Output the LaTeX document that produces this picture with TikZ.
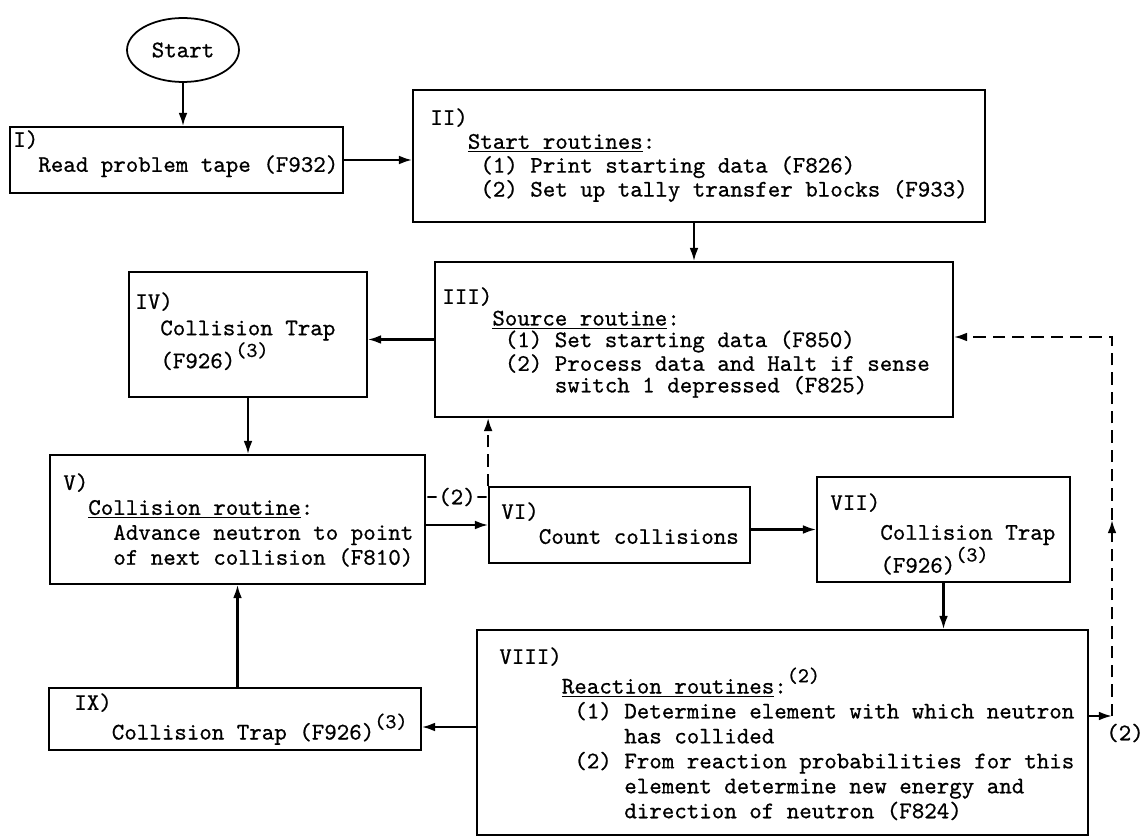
\documentclass[tikz,border=0pt]{standalone}
\usepackage{fontspec}
\newfontfamily\typew[FakeBold=0.7]{lmmono10-regular.otf}
\newcommand\tw[1]{\typew\fontsize{13.55}{#1}\selectfont}
\newcommand\upnote[1]{\raisebox{1.1ex}{\fontsize{12}{12}\selectfont(#1)}}
\usetikzlibrary{arrows.meta,shapes.geometric,fit}

\begin{document}
\begin{tikzpicture}[x=0.02cm, y=-0.02cm,
    box/.style={draw, line width=1pt, inner sep=0pt},
    txt/.style={anchor=north west, align=left, inner sep=0pt},
    arr/.style={line width=1.2pt, -{Latex[length=7.5pt,width=5pt]}},
    back/.style={line width=1.1pt, dash pattern=on 7pt off 4pt}]
\useasboundingbox (0,0) rectangle (1142,837);

% blocks of the flow chart
\node[draw, ellipse, line width=1pt, minimum width=2.24cm, minimum height=1.28cm, font=\tw{14pt}] (start) at (183,50) {Start};
\node[box, fit={(10,127) (343,193)}] (read) {};
\node[box, fit={(413,90) (985,222)}] (routines) {};
\node[box, fit={(435,262) (953,417)}] (source) {};
\node[box, fit={(129,272) (367,397)}] (trap4) {};
\node[box, fit={(50,455) (425,584)}] (collision) {};
\node[box, fit={(489,487) (750,563)}] (count) {};
\node[box, fit={(817,477) (1070,582)}] (trap7) {};
\node[box, fit={(477,630) (1088,835)}] (reaction) {};
\node[box, fit={(49,688) (421,750)}] (trap9) {};

% texts in the blocks
\node[txt, font=\tw{14.2pt}] (t1) at (13,130) {I)\\~~Read problem tape (F932)};
\node[txt, font=\tw{13.6pt}] (t2) at (430,108) {II)\\~~~\underline{Start routines}:\\~~~~(1) Print starting data (F826)\\~~~~(2) Set up tally transfer blocks (F933)};
\node[txt, font=\tw{12.3pt}] (t3) at (442,287) {III)\\~~~~\underline{Source routine}:\\~~~~~(1) Set starting data (F850)\\~~~~~(2) Process data and Halt if sense\\~~~~~~~~~switch 1 depressed (F825)};
\node[txt, font=\tw{15pt}] (t4) at (135,292) {IV)\\~~Collision Trap\\~~(F926)\upnote{3}};
\node[txt, font=\tw{14.2pt}] (t5) at (63,473) {V)\\~~\underline{Collision routine}:\\~~~~Advance neutron to point\\~~~~of next collision (F810)};
\node[txt, font=\tw{14.2pt}] (t6) at (501,502) {VI)\\~~~Count collisions};
\node[txt, font=\tw{17pt}] (t7) at (830,493) {VII)\\~~~~Collision Trap\\~~~~(F926)\upnote{3}};
\node[txt, font=\tw{14.2pt}] (t8) at (499,647) {VIII)\\~~~~~\underline{Reaction routines}:\upnote{2}\\~~~~~~(1) Determine element with which neutron\\~~~~~~~~~~has collided\\~~~~~~(2) From reaction probabilities for this\\~~~~~~~~~~element determine new energy and\\~~~~~~~~~~direction of neutron (F824)};
\node[txt, font=\tw{14.2pt}] (t9) at (74,693) {IX)\\~~~Collision Trap (F926)\upnote{3}};

% connectors
\draw[arr] (start) -- (start |- read.north);
\draw[arr] (read) -- (read -| routines.west);
\draw[arr] (routines.south -| source.north) -- (source.north);
\draw[arr] (source) -- (source -| trap4.east);
\draw[arr] (trap4) -- (trap4 |- collision.north);
\draw[arr] (collision.east |- count) -- (count.west);
\draw[arr] (count.east |- trap7) -- (trap7.west);
\draw[arr] (trap7) -- (trap7 |- reaction.north);
\draw[arr] (reaction.west |- 0,727) -- (trap9.east |- 0,727);
\draw[arr] (trap9.north -| collision) -- (collision.south);

% dashed returns
\node[font=\tw{14pt}, inner sep=0pt] (twoa) at (457,497) {-(2)-};
\draw[back, arr] (count.north west) -- (count.north west |- source.south);
\coordinate (bend) at (1112,716);
\coordinate (mid) at (1112,520);
\coordinate (corner) at (1112,337);
\draw[arr] (reaction.east |- bend) -- (bend);
\draw[back, arr] (bend) -- (mid);
\draw[back, arr] (mid) -- (corner) -- (corner -| source.east);
\node[font=\tw{14pt}, inner sep=0pt] (twob) at (1125,733) {(2)};
\end{tikzpicture}
\end{document}
